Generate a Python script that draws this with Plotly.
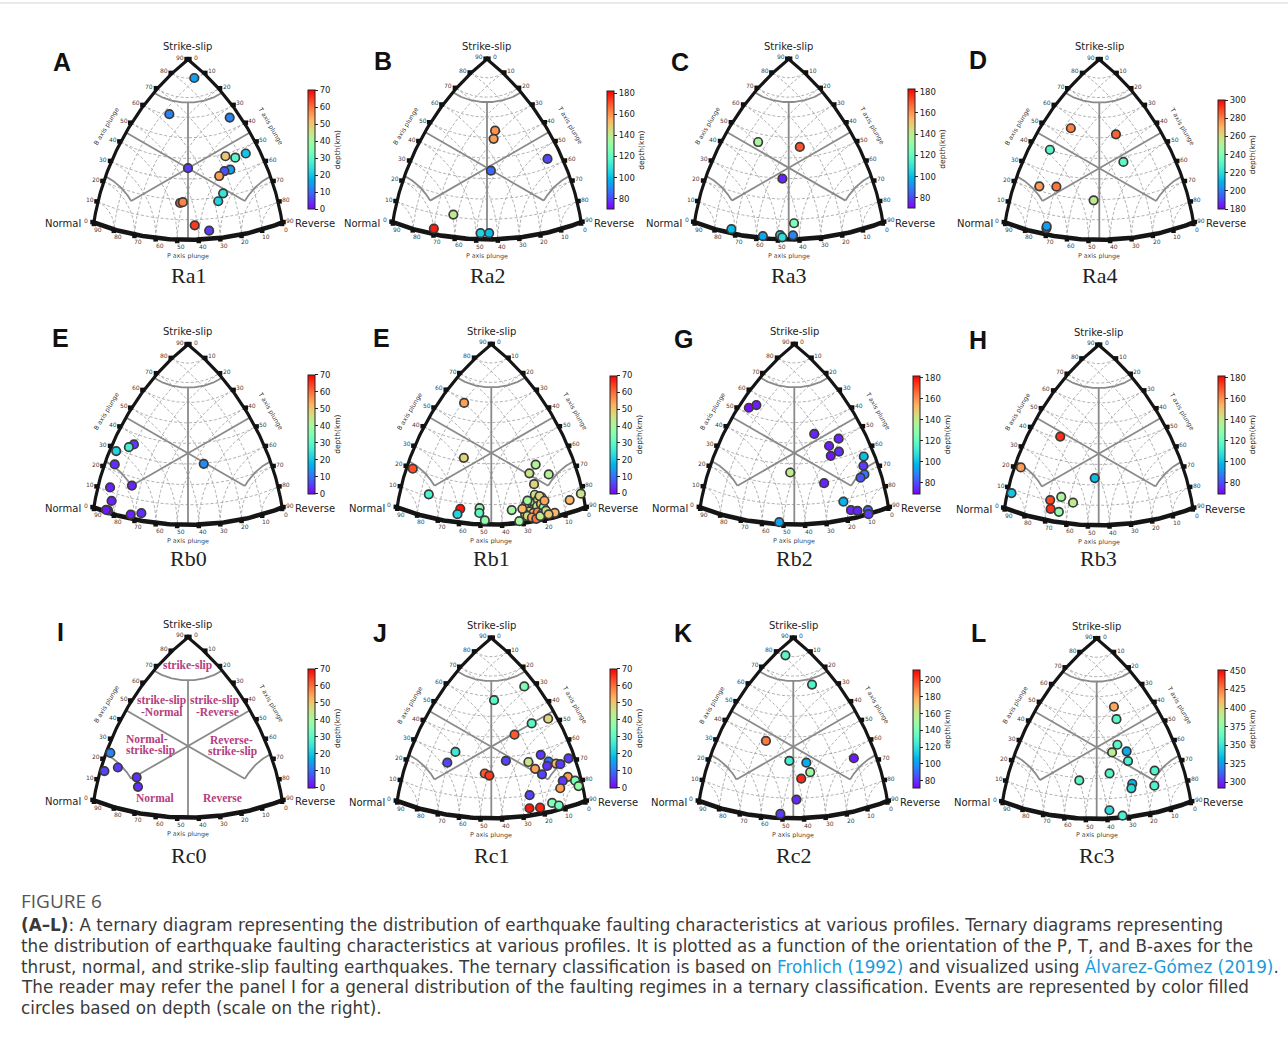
import numpy as np
import plotly.graph_objects as go

# ---------------- focal-mechanism data: axis plunges (deg) and depth (km) ----------------
ra1_t = [9, 13, 34, 47, 51, 52, 34, 53, 51, 51, 55, 56, 39, 40, 47, 55]
ra1_b = [79, 60, 55, 39, 37, 37, 35, 32, 32, 30, 22, 18, 17, 18, 8, 4]
ra1_p = [5, 26, 5, 16, 12, 7, 37, 17, 20, 23, 25, 28, 47, 45, 41, 35]
ra1_depth = [15, 12, 12, 50, 30, 20, 5, 15, 7, 55, 25, 22, 63, 58, 65, 5]

ra2_t = [28, 30, 55, 41, 28, 20, 42, 46]
ra2_b = [53, 49, 34, 32, 11, 3, 3, 3]
ra2_p = [22, 25, 7, 33, 60, 69, 48, 44]
ra2_depth = [160, 158, 80, 85, 140, 178, 105, 100]

ra3_t = [15, 34, 35, 47, 18, 33, 41, 42, 47]
ra3_b = [47, 47, 27, 8, 2, 1, 2, 1, 2]
ra3_p = [40, 24, 44, 42, 72, 57, 49, 48, 43]
ra3_depth = [135, 170, 75, 125, 100, 95, 105, 108, 90]

ra4_t = [13, 32, 10, 42, 12, 20, 39, 20, 20]
ra4_b = [53, 52, 40, 37, 22, 24, 20, 3, 4]
ra4_p = [34, 19, 48, 25, 65, 58, 44, 70, 70]
ra4_depth = [280, 285, 230, 232, 275, 282, 255, 200, 205]

rb0_t = [10, 8, 3, 5, 44, 6, 16, 8, 7, 6, 18, 23]
rb0_b = [35, 33, 29, 23, 30, 12, 16, 6, 1, 1, 2, 4]
rb0_p = [53, 56, 61, 66, 31, 76, 67, 80, 83, 84, 72, 66]
rb0_depth = [5, 27, 22, 4, 13, 3, 3, 3, 2, 2, 3, 4]

rb1_t = [10, 25, 3, 14, 30, 29, 39, 39, 42, 57, 55, 64, 61, 63, 83, 81, 75, 54, 58,
         60, 62, 63, 64, 66, 67, 64, 66, 67, 69, 63, 65, 67, 69, 61, 62, 64, 66, 68,
         59, 60, 65, 69, 71, 72]
rb1_b = [59, 32, 20, 11, 7, 4, 8, 6, 2, 27, 24, 21, 18, 13, 7, 6, 2, 7, 1,
         9, 7, 8, 9, 10, 11, 6, 7, 8, 6, 5, 4, 4, 3, 4, 3, 2, 1, 2,
         7, 11, 12, 9, 4, 2]
rb1_p = [30, 47, 70, 72, 59, 61, 50, 50, 48, 18, 23, 14, 22, 23, 1, 7, 15, 35, 32,
         28, 27, 25, 24, 22, 20, 25, 23, 21, 20, 27, 25, 23, 21, 29, 28, 26, 24, 22,
         30, 27, 21, 19, 19, 18]
rb1_depth = [55, 48, 63, 28, 68, 22, 38, 30, 37, 42, 45, 42, 48, 45, 45, 52, 52, 40, 40,
             50, 45, 55, 40, 48, 52, 56, 44, 50, 38, 47, 53, 58, 42, 50, 46, 55, 60, 44,
             52, 40, 48, 54, 45, 50]

rb2_t = [5, 7, 38, 48, 48, 52, 51, 63, 66, 38, 54, 69, 70, 67, 72, 75, 80, 80, 38]
rb2_b = [52, 55, 44, 39, 37, 33, 32, 27, 23, 25, 20, 19, 18, 9, 4, 3, 2, 0, 1]
rb2_p = [37, 34, 22, 13, 18, 16, 20, 5, 7, 42, 28, 8, 10, 21, 18, 15, 10, 10, 52]
rb2_depth = [72, 74, 75, 75, 74, 76, 73, 100, 78, 140, 75, 88, 82, 98, 75, 75, 85, 78, 95]

rb3_t = [15, 3, 38, 2, 21, 26, 32, 22, 26]
rb3_b = [41, 21, 25, 8, 10, 13, 10, 6, 5]
rb3_p = [45, 69, 41, 82, 67, 60, 57, 67, 64]
rb3_depth = [175, 158, 100, 102, 172, 135, 140, 175, 130]

rc0_t = [2, 2, 8, 18, 20]
rc0_b = [24, 15, 19, 17, 13]
rc0_p = [66, 75, 69, 65, 65]
rc0_depth = [12, 6, 5, 4, 4]

rc1_t = [28, 23, 47, 44, 41, 21, 19, 45, 55, 58, 62, 65, 67, 68, 64, 60, 63, 38, 41,
         75, 74, 79, 75, 82, 62, 62, 68, 74, 77]
rc1_b = [62, 58, 43, 44, 40, 31, 25, 28, 26, 28, 24, 22, 21, 22, 22, 22, 19, 22, 20,
         14, 13, 11, 10, 8, 10, 4, 3, 4, 2]
rc1_p = [5, 21, 4, 12, 23, 51, 58, 32, 22, 15, 13, 10, 8, 3, 14, 20, 18, 44, 43,
         6, 9, 3, 11, 2, 26, 27, 22, 16, 13]
rc1_depth = [35, 30, 48, 30, 62, 26, 6, 6, 45, 5, 10, 52, 5, 5, 4, 55, 6, 62, 65,
             55, 5, 35, 55, 38, 6, 68, 67, 35, 33]

rc2_t = [4, 23, 22, 36, 62, 45, 49, 45, 46, 39]
rc2_b = [80, 65, 37, 31, 25, 27, 22, 20, 9, 2]
rc2_p = [9, 10, 45, 38, 11, 33, 33, 38, 43, 51]
rc2_depth = [130, 128, 190, 125, 75, 105, 150, 205, 78, 82]

rc3_t = [30, 35, 44, 41, 49, 53, 65, 47, 34, 59, 59, 69, 51, 57]
rc3_b = [55, 48, 36, 33, 32, 27, 20, 22, 18, 16, 14, 13, 4, 1]
rc3_p = [17, 20, 25, 31, 23, 24, 14, 35, 51, 26, 27, 16, 39, 33]
rc3_depth = [415, 360, 360, 390, 330, 355, 357, 358, 360, 333, 345, 356, 345, 355]

# depth scale of each profile
depth_range_shallow = [0, 70]
depth_ticks_shallow = [0, 10, 20, 30, 40, 50, 60, 70]
depth_range_mid = [70, 182]
depth_ticks_mid = [80, 100, 120, 140, 160, 180]
depth_range_ra4 = [180, 300]
depth_ticks_ra4 = [180, 200, 220, 240, 260, 280, 300]
depth_range_rc2 = [71, 212]
depth_ticks_rc2 = [80, 100, 120, 140, 160, 180, 200]
depth_range_rc3 = [292, 451]
depth_ticks_rc3 = [300, 325, 350, 375, 400, 425, 450]

panel_letters = ["A", "B", "C", "D", "E", "E", "G", "H", "I", "J", "K", "L"]
profile_names = ["Ra1", "Ra2", "Ra3", "Ra4", "Rb0", "Rb1", "Rb2", "Rb3", "Rc0", "Rc1", "Rc2", "Rc3"]
plunge_ticks = [0, 10, 20, 30, 40, 50, 60, 70, 80, 90]

profiles = [
    (ra1_t, ra1_b, ra1_p, ra1_depth, depth_range_shallow, depth_ticks_shallow),
    (ra2_t, ra2_b, ra2_p, ra2_depth, depth_range_mid, depth_ticks_mid),
    (ra3_t, ra3_b, ra3_p, ra3_depth, depth_range_mid, depth_ticks_mid),
    (ra4_t, ra4_b, ra4_p, ra4_depth, depth_range_ra4, depth_ticks_ra4),
    (rb0_t, rb0_b, rb0_p, rb0_depth, depth_range_shallow, depth_ticks_shallow),
    (rb1_t, rb1_b, rb1_p, rb1_depth, depth_range_shallow, depth_ticks_shallow),
    (rb2_t, rb2_b, rb2_p, rb2_depth, depth_range_mid, depth_ticks_mid),
    (rb3_t, rb3_b, rb3_p, rb3_depth, depth_range_mid, depth_ticks_mid),
    (rc0_t, rc0_b, rc0_p, rc0_depth, depth_range_shallow, depth_ticks_shallow),
    (rc1_t, rc1_b, rc1_p, rc1_depth, depth_range_shallow, depth_ticks_shallow),
    (rc2_t, rc2_b, rc2_p, rc2_depth, depth_range_rc2, depth_ticks_rc2),
    (rc3_t, rc3_b, rc3_p, rc3_depth, depth_range_rc3, depth_ticks_rc3),
]

# ---------------- page layout (pixels) ----------------
W, H = 1288, 1050
UNIT = 118.17                      # pixels per projection unit
centres = [(188, 168.2), (487, 167.8), (788.7, 167.8), (1099.3, 168.2),
           (188, 453.2), (491.3, 453), (794.3, 453), (1098.7, 453.7),
           (188, 746), (491.3, 746.7), (793.3, 746.7), (1096.7, 747.3)]
cbar_boxes = [(308.3, 90, 209.3), (606.7, 91, 209.3), (908.3, 89.3, 208.7), (1218.3, 100, 209.3),
              (308, 374.7, 493.7), (610, 375.3, 493.7), (913.3, 375.3, 493.7), (1218.3, 375.3, 493.7),
              (308, 669, 787.7), (610, 669, 787.7), (913.3, 670, 788.3), (1217.7, 670, 788.3)]
letter_pos = [(61.7, 62), (383.3, 61), (680, 62), (978, 60),
              (60, 338), (381.7, 338), (683, 338.7), (978, 340),
              (60, 632), (380, 633), (683, 633), (978, 633)]
XR = (-1.26, 1.26)
YR = (-0.85, 1.15)
TICK_GREY = "rgba(35,35,35,0.92)"


def px(x):
    return x / W


def py(y):
    return 1 - y / H


def project_z(zt, zb, zp):
    """Kaverina et al. (1996) projection of the direction cosines of T, B, P."""
    zt, zb, zp = (np.asarray(v, dtype=float) for v in (zt, zb, zp))
    L = 2 * np.sin(0.5 * np.arccos(np.clip((zt + zb + zp) / np.sqrt(3), -1, 1)))
    N = np.sqrt(2 * ((zb - zp) ** 2 + (zb - zt) ** 2 + (zt - zp) ** 2))
    with np.errstate(invalid="ignore", divide="ignore"):
        k = np.where(N > 0, L / N, 0.0)
    return np.sqrt(3) * k * (zt - zp), k * (2 * zb - zp - zt)


def project(t, b, p):
    s = lambda a: np.sin(np.radians(np.asarray(a, dtype=float)))
    return project_z(s(t), s(b), s(p))


def contour(axis, plunge, phi0=0.0, phi1=90.0, n=80):
    """Curve of constant plunge of one axis; the other two share cos(plunge)."""
    z = np.sin(np.radians(plunge))
    m = np.cos(np.radians(plunge))
    phi = np.radians(np.linspace(phi0, phi1, n))
    a, c = m * np.cos(phi), m * np.sin(phi)
    if axis == "B":      # from left edge (T=0) to right edge (P=0)
        return project_z(c, np.full_like(phi, z), a)
    if axis == "P":      # from left edge (T=0) to bottom edge (B=0)
        return project_z(c, a, np.full_like(phi, z))
    # axis T: from right edge (P=0) to bottom edge (B=0)
    return project_z(np.full_like(phi, z), a, c)


def join(curves):
    xs, ys = [], []
    for x, y in curves:
        xs += list(x) + [None]
        ys += list(y) + [None]
    return xs, ys


def rainbow(n=21):
    scale = []
    for i in range(n):
        v = i / (n - 1)
        r = min(1.0, abs(2 * v - 0.5))
        g = max(0.0, np.sin(np.pi * v))
        b = max(0.0, np.cos(np.pi * v / 2))
        scale.append([v, f"rgb({int(round(r * 255))},{int(round(g * 255))},{int(round(b * 255))})"])
    return scale


RAINBOW = rainbow()
ZC = np.sin(np.radians(67.5))

fig = go.Figure()
annotations = []

for i in range(12):
    ax = "" if i == 0 else str(i + 1)
    xa, ya = "x" + ax, "y" + ax
    cx, cy = centres[i]
    t, b, p, depth, crange, cticks = profiles[i]

    fig.layout["xaxis" + ax] = dict(domain=[px(cx + XR[0] * UNIT), px(cx + XR[1] * UNIT)],
                                    range=list(XR), visible=False, anchor=ya, fixedrange=True)
    fig.layout["yaxis" + ax] = dict(domain=[py(cy - YR[0] * UNIT), py(cy - YR[1] * UNIT)],
                                    range=list(YR), visible=False, anchor=xa, fixedrange=True)

    def ann(x, y, text, size, angle=0, xanchor="center", family="DejaVu Sans", color="#222"):
        annotations.append(dict(x=x, y=y, xref=xa, yref=ya, text=text, showarrow=False, textangle=angle,
                                xanchor=xanchor, yanchor="middle", borderpad=0,
                                font=dict(family=family, size=size, color=color)))

    # dashed plunge contours every 10 degrees (not on the classification key panel)
    if profile_names[i] != "Rc0":
        gx, gy = join([contour(a, v) for a in ("B", "P", "T") for v in range(10, 90, 10)])
        fig.add_trace(go.Scatter(x=gx, y=gy, mode="lines", xaxis=xa, yaxis=ya, hoverinfo="skip",
                                 line=dict(color="#a3a3a3", width=0.85, dash="3px,2px"), showlegend=False))

    # classification boundaries (Frohlich-type, 67.5 degree limits)
    zz = np.linspace(0, ZC, 60)
    oo = np.sqrt((1 - zz ** 2) / 2)
    ss_arc = contour("B", 67.5)
    pt_line = project_z(oo, zz, oo)
    bp_line = project_z(zz, oo, oo)
    bt_line = project_z(oo, oo, zz)
    n_arc = contour("P", 67.5, 0, 45)
    r_arc = contour("T", 67.5, 0, 45)
    cxs, cys = join([ss_arc, pt_line, bp_line, bt_line, n_arc, r_arc])
    fig.add_trace(go.Scatter(x=cxs, y=cys, mode="lines", xaxis=xa, yaxis=ya, hoverinfo="skip",
                             line=dict(color="#8a8a8a", width=1.8), showlegend=False))

    # outer frame
    lx, ly = join([contour("T", 0), contour("P", 0)])
    fig.add_trace(go.Scatter(x=lx, y=ly, mode="lines", xaxis=xa, yaxis=ya, hoverinfo="skip",
                             line=dict(color="#151515", width=3.2), showlegend=False))
    bx, by = contour("B", 0)
    fig.add_trace(go.Scatter(x=bx, y=by, mode="lines", xaxis=xa, yaxis=ya, hoverinfo="skip",
                             line=dict(color="#151515", width=4.6), showlegend=False))

    # ticks and tick labels along the three edges
    vals = np.array(plunge_ticks)
    zero = np.zeros(len(vals))
    lxe, lye = project(zero, vals, 90 - vals)          # B axis (left edge)
    rxe, rye = project(vals, 90 - vals, zero)          # T axis (right edge)
    bxe, bye = project(90 - vals, zero, vals)          # P axis (bottom edge)
    fig.add_trace(go.Scatter(x=np.r_[lxe - 0.012, rxe + 0.012, bxe], y=np.r_[lye + 0.004, rye + 0.004, bye - 0.012],
                             mode="markers", xaxis=xa, yaxis=ya, hoverinfo="skip", cliponaxis=False,
                             marker=dict(symbol="square", size=4.5, color="#111"), showlegend=False))
    for k, v in enumerate(vals):
        ann(lxe[k] - 0.068, lye[k] + 0.02, str(v), 6, angle=1, color=TICK_GREY)
        ann(rxe[k] + 0.068, rye[k] + 0.02, str(v), 6, angle=1, color=TICK_GREY)
        ann(bxe[k] + 0.033, bye[k] - 0.062, str(v), 6, angle=1, color=TICK_GREY)

    # events coloured by depth
    ex, ey = project(t, b, p)
    cl, ct, cb = cbar_boxes[i]
    fig.add_trace(go.Scatter(
        x=ex, y=ey, mode="markers", xaxis=xa, yaxis=ya, cliponaxis=False, showlegend=False,
        marker=dict(size=8.5, color=depth, colorscale=RAINBOW, cmin=crange[0], cmax=crange[1],
                    line=dict(width=1.7, color="#3a3a3a"), showscale=True,
                    colorbar=dict(x=px(cl), xanchor="left", xpad=0, y=py((ct + cb) / 2), yanchor="middle",
                                  ypad=0, len=cb - ct, lenmode="pixels", thickness=7, thicknessmode="pixels",
                                  outlinewidth=1, outlinecolor="#222", ticks="outside", ticklen=3,
                                  tickwidth=1, tickcolor="#222", tickvals=cticks,
                                  tickfont=dict(family="DejaVu Sans", size=8.5, color="#222"),
                                  title=dict(text="depth(km)", side="right",
                                             font=dict(family="DejaVu Sans", size=7.5, color="#222"))))))

    # vertex and axis labels
    ann(0, 1.026, "Strike-slip", 10)
    ann(-0.895, -0.47, "Normal", 10, xanchor="right")
    ann(0.895, -0.47, "Reverse", 10, xanchor="left")
    ann(-0.688, 0.357, "B axis plunge", 6.3, angle=-59, color=TICK_GREY)
    ann(0.70, 0.36, "T axis plunge", 6.3, angle=60, color=TICK_GREY)
    ann(0, -0.743, "P axis plunge", 6.3, angle=1, color=TICK_GREY)

    if profile_names[i] == "Rc0":
        key = [("strike-slip", 0, 0.685), ("strike-slip", -0.223, 0.381), ("-Normal", -0.223, 0.285),
               ("strike-slip", 0.228, 0.381), ("-Reverse", 0.251, 0.285),
               ("Normal-", -0.344, 0.059), ("strike-slip", -0.319, -0.042),
               ("Reverse-", 0.37, 0.051), ("strike-slip", 0.375, -0.048),
               ("Normal", -0.282, -0.437), ("Reverse", 0.288, -0.437)]
        for txt, kx, ky in key:
            ann(kx, ky, "<b>" + txt + "</b>", 11.5, family="Liberation Serif", color="#b53d80")

    # panel letter and profile name
    lx_, ly_ = letter_pos[i]
    annotations.append(dict(x=px(lx_), y=py(ly_), xref="paper", yref="paper", text="<b>%s</b>" % panel_letters[i],
                            showarrow=False, xanchor="center", yanchor="middle",
                            font=dict(family="Liberation Sans", size=25, color="#111")))
    name_y = [275.3, 558.7, 855][i // 4]
    annotations.append(dict(x=px(cx), y=py(name_y), xref="paper", yref="paper", text=profile_names[i],
                            showarrow=False, xanchor="center", yanchor="middle",
                            font=dict(family="Liberation Serif", size=22, color="#222")))

# ---------------- caption ----------------
LINK = "#1b9bd7"
caption = [
    "<b>(A–L)</b>: A ternary diagram representing the distribution of earthquake faulting characteristics at various profiles. Ternary diagrams representing",
    "the distribution of earthquake faulting characteristics at various profiles. It is plotted as a function of the orientation of the P, T, and B-axes for the",
    "thrust, normal, and strike-slip faulting earthquakes. The ternary classification is based on "
    "<span style='color:%s'>Frohlich (1992)</span> and visualized using <span style='color:%s'>Álvarez-Gómez (2019)</span>." % (LINK, LINK),
    "The reader may refer the panel I for a general distribution of the faulting regimes in a ternary classification. Events are represented by color filled",
    "circles based on depth (scale on the right).",
]
annotations.append(dict(x=px(20), y=py(901), xref="paper", yref="paper", text="FIGURE 6", showarrow=False,
                        xanchor="left", yanchor="middle", borderpad=0,
                        font=dict(family="Open Sans", size=19, color="#555")))
for k, line in enumerate(caption):
    annotations.append(dict(x=px(20), y=py(925 + k * 20.75), xref="paper", yref="paper", text=line,
                            showarrow=False, xanchor="left", yanchor="middle", borderpad=0,
                            font=dict(family="DejaVu Sans", size=16.8, color="#3a3a3a")))

fig.update_layout(
    width=W, height=H, margin=dict(l=0, r=0, t=0, b=0),
    paper_bgcolor="white", plot_bgcolor="rgba(0,0,0,0)",
    annotations=annotations, showlegend=False,
    shapes=[dict(type="line", xref="paper", yref="paper", x0=0, x1=1, y0=py(3), y1=py(3),
                 line=dict(color="#d5d5d5", width=1))],
)
fig.write_html("out.html")
